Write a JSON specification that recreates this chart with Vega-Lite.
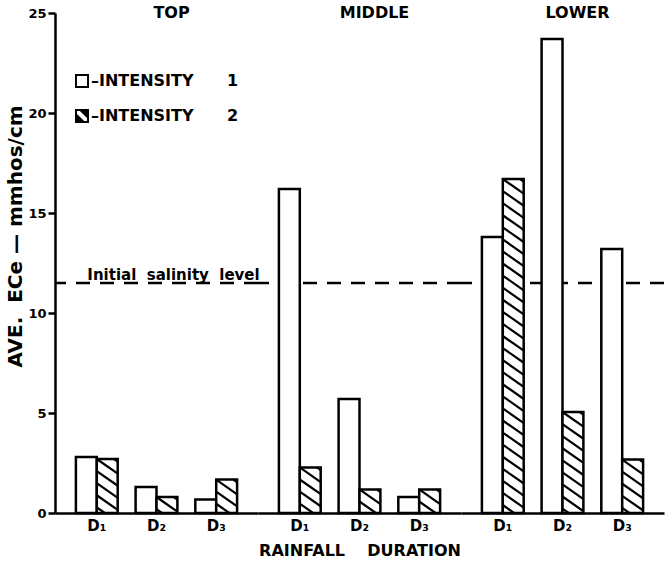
{
  "$schema": "https://vega.github.io/schema/vega-lite/v6.json",
  "background": "white",
  "padding": {"left": 5, "top": 5, "right": 0, "bottom": 5},
  "bounds": "flush",
  "config": {
    "font": "DejaVu Sans",
    "view": {"stroke": null},
    "axis": {"domainColor": "black", "tickColor": "black", "labelColor": "black", "titleColor": "black", "grid": false}
  },
  "data": {
    "values": [
      {"section": "TOP", "duration": "D₁", "intensity": "1", "value": 2.8},
      {"section": "TOP", "duration": "D₁", "intensity": "2", "value": 2.7},
      {"section": "TOP", "duration": "D₂", "intensity": "1", "value": 1.3},
      {"section": "TOP", "duration": "D₂", "intensity": "2", "value": 0.8},
      {"section": "TOP", "duration": "D₃", "intensity": "1", "value": 0.67},
      {"section": "TOP", "duration": "D₃", "intensity": "2", "value": 1.67},
      {"section": "MIDDLE", "duration": "D₁", "intensity": "1", "value": 16.2},
      {"section": "MIDDLE", "duration": "D₁", "intensity": "2", "value": 2.28},
      {"section": "MIDDLE", "duration": "D₂", "intensity": "1", "value": 5.7},
      {"section": "MIDDLE", "duration": "D₂", "intensity": "2", "value": 1.18},
      {"section": "MIDDLE", "duration": "D₃", "intensity": "1", "value": 0.8},
      {"section": "MIDDLE", "duration": "D₃", "intensity": "2", "value": 1.18},
      {"section": "LOWER", "duration": "D₁", "intensity": "1", "value": 13.8},
      {"section": "LOWER", "duration": "D₁", "intensity": "2", "value": 16.7},
      {"section": "LOWER", "duration": "D₂", "intensity": "1", "value": 23.7},
      {"section": "LOWER", "duration": "D₂", "intensity": "2", "value": 5.05},
      {"section": "LOWER", "duration": "D₃", "intensity": "1", "value": 13.2},
      {"section": "LOWER", "duration": "D₃", "intensity": "2", "value": 2.67}
    ]
  },
  "spacing": 0,
  "facet": {
    "column": {
      "field": "section",
      "type": "nominal",
      "sort": ["TOP", "MIDDLE", "LOWER"],
      "title": "RAINFALL\u00a0\u00a0\u00a0\u00a0DURATION",
      "header": {
        "labels": false,
        "titleOrient": "bottom",
        "titleFontSize": 16,
        "titleFontWeight": "bold",
        "titleColor": "black",
        "titlePadding": 0
      }
    }
  },
  "spec": {
    "width": 203,
    "height": 500,
    "layer": [
      {
        "transform": [{"filter": "datum.duration == 'D₂' && datum.intensity == '1'"}],
        "mark": {"type": "rule", "strokeDash": [14, 10], "strokeWidth": 2.5, "color": "black"},
        "encoding": {
          "y": {"datum": 11.5, "type": "quantitative"}
        }
      },
      {
        "mark": {"type": "bar", "stroke": "black", "strokeWidth": 2.5, "fill": "white"},
        "encoding": {
          "x": {
            "field": "duration", "type": "nominal", "sort": ["D₁", "D₂", "D₃"], "title": null,
            "scale": {"paddingInner": 0.3, "paddingOuter": 0.35},
            "axis": {"ticks": false, "domainWidth": 2.5, "labelFontSize": 15, "labelFontWeight": "bold", "labelPadding": 5, "labelAngle": 0}
          },
          "xOffset": {"field": "intensity", "type": "nominal", "scale": {"paddingInner": 0, "paddingOuter": 0}},
          "y": {
            "field": "value", "type": "quantitative",
            "scale": {"domain": [0, 25], "nice": false},
            "axis": {
              "title": "AVE.\u00a0\u00a0ECe\u00a0—\u00a0mmhos/cm",
              "values": [0, 5, 10, 15, 20, 25],
              "tickSize": 7, "tickWidth": 2.5, "domainWidth": 2.5,
              "labelFontSize": 13, "labelFontWeight": "bold", "labelPadding": 2,
              "titleFontSize": 20, "titleFontWeight": "bold", "titlePadding": 2,
              "titleY": 223
            }
          }
        }
      },
      {
        "transform": [{"filter": "datum.intensity == '2'"}],
        "mark": {
          "type": "point",
          "shape": "M0.64,0L1,0.25 M-1,0L1,1.4 M-1,1.15L1,2.55 M-1,2.3L1,3.7 M-1,3.45L1,4.85 M-1,4.6L1,6 M-1,5.75L1,7.15 M-1,6.9L1,8.3 M-1,8.05L1,9.45 M-1,9.2L1,10.6 M-1,10.35L1,11.75 M-1,11.5L1,12.9 M-1,12.65L1,14.05 M-1,13.8L1,15.2 M-1,14.95L1,16.35 M-1,16.1L1,17.5 M-1,17.25L1,18.65 M-1,18.4L1,19.8 M-1,19.55L1,20.95 M-1,20.7L1,22.1 M-1,21.85L1,23.25 M-1,23L1,24.4 M-1,24.15L1,25.55 M-1,25.3L1,26.7 M-1,26.45L1,27.85 M-1,27.6L1,29 M-1,28.75L1,30.15 M-1,29.9L1,31.3 M-1,31.05L1,32.45 M-1,32.2L1,33.6 M-1,33.35L1,34.75",
          "size": 441,
          "filled": false,
          "stroke": "black",
          "strokeWidth": 2.2,
          "opacity": 1,
          "clip": true
        },
        "encoding": {
          "x": {"field": "duration", "type": "nominal", "sort": ["D₁", "D₂", "D₃"], "title": null},
          "xOffset": {"field": "intensity", "type": "nominal"},
          "y": {"field": "value", "type": "quantitative"}
        }
      },
      {
        "mark": {"type": "point", "filled": true, "color": "black", "opacity": 0},
        "encoding": {
          "x": {"field": "duration", "type": "nominal", "sort": ["D₁", "D₂", "D₃"], "title": null},
          "xOffset": {"field": "intensity", "type": "nominal"},
          "y": {"field": "value", "type": "quantitative"},
          "shape": {
            "field": "intensity", "type": "nominal",
            "scale": {"range": [
              "M-1,-1H1V1H-1Z M-0.72,-0.72V0.72H0.72V-0.72Z",
              "M-1,-1H1V1H-1Z M-0.72,-0.72V0.72H0.72V-0.72Z M-0.3,-0.72H0.72V0.3Z M-0.72,-0.3L0.3,0.72H-0.72Z"
            ]},
            "legend": {
              "title": null,
              "orient": "none",
              "legendX": 19,
              "legendY": 60,
              "labelExpr": "'–INTENSITY\u00a0\u00a0\u00a0\u00a0\u00a0\u00a0' + datum.label",
              "labelFontSize": 16,
              "labelFontWeight": "bold",
              "labelColor": "black",
              "labelOffset": 1,
              "symbolSize": 196,
              "symbolOpacity": 1,
              "symbolFillColor": "black",
              "symbolStrokeWidth": 0,
              "rowPadding": 19
            }
          }
        }
      },
      {
        "transform": [{"filter": "datum.duration == 'D₂' && datum.intensity == '1'"}],
        "mark": {"type": "text", "fontSize": 16, "fontWeight": "bold", "dx": 15, "baseline": "middle", "color": "black"},
        "encoding": {
          "x": {"field": "duration", "type": "nominal", "sort": ["D₁", "D₂", "D₃"], "title": null},
          "y": {"datum": 25, "type": "quantitative"},
          "text": {"field": "section"}
        }
      },
      {
        "transform": [{"filter": "datum.section == 'TOP' && datum.duration == 'D₂' && datum.intensity == '1'"}],
        "mark": {"type": "text", "text": "Initial\u00a0\u00a0salinity\u00a0\u00a0level", "fontSize": 15, "fontWeight": "bold", "dx": 17, "dy": -3, "baseline": "alphabetic", "color": "black"},
        "encoding": {
          "x": {"field": "duration", "type": "nominal", "sort": ["D₁", "D₂", "D₃"], "title": null},
          "y": {"datum": 11.5, "type": "quantitative"}
        }
      }
    ]
  }
}
